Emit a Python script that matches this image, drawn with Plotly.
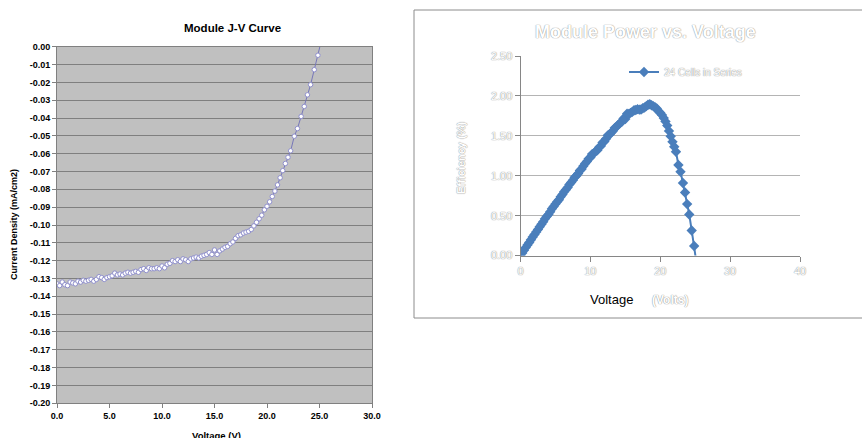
import plotly.graph_objects as go

# ---------------- data ----------------
voltage = [0.00, 0.25, 0.50, 0.75, 1.00, 1.25, 1.50, 1.75, 2.00, 2.25, 2.50, 2.75,
           3.00, 3.25, 3.50, 3.75, 4.00, 4.25, 4.50, 4.75, 5.00, 5.25, 5.50, 5.75,
           6.00, 6.25, 6.50, 6.75, 7.00, 7.25, 7.50, 7.75, 8.00, 8.25, 8.50, 8.75,
           9.00, 9.25, 9.50, 9.75, 10.00, 10.25, 10.50, 10.75, 11.00, 11.25, 11.50, 11.75,
           12.00, 12.25, 12.50, 12.75, 13.00, 13.25, 13.50, 13.75, 14.00, 14.25, 14.50, 14.75,
           15.00, 15.25, 15.50, 15.75, 16.00, 16.25, 16.50, 16.75, 17.00, 17.25, 17.50, 17.75,
           18.00, 18.25, 18.50, 18.75, 19.00, 19.25, 19.50, 19.75, 20.00, 20.25, 20.50, 20.75,
           21.00, 21.25, 21.50, 21.75, 22.00, 22.25, 22.60, 22.90, 23.25, 23.55, 23.85, 24.15,
           24.50, 24.85, 25.20]

current_density = [-0.1330, -0.1340, -0.1320, -0.1335, -0.1340, -0.1320, -0.1325, -0.1330,
                   -0.1315, -0.1320, -0.1310, -0.1315, -0.1310, -0.1305, -0.1315, -0.1305,
                   -0.1290, -0.1295, -0.1305, -0.1295, -0.1290, -0.1285, -0.1270, -0.1280,
                   -0.1275, -0.1280, -0.1270, -0.1265, -0.1270, -0.1265, -0.1260, -0.1265,
                   -0.1250, -0.1245, -0.1255, -0.1240, -0.1245, -0.1245, -0.1240, -0.1245,
                   -0.1230, -0.1240, -0.1220, -0.1215, -0.1200, -0.1205, -0.1195, -0.1205,
                   -0.1190, -0.1195, -0.1205, -0.1190, -0.1185, -0.1180, -0.1185, -0.1175,
                   -0.1170, -0.1165, -0.1155, -0.1165, -0.1140, -0.1165, -0.1145, -0.1135,
                   -0.1125, -0.1120, -0.1105, -0.1095, -0.1075, -0.1060, -0.1055, -0.1045,
                   -0.1040, -0.1035, -0.1025, -0.1005, -0.0985, -0.0965, -0.0945, -0.0915,
                   -0.0895, -0.0870, -0.0840, -0.0810, -0.0775, -0.0735, -0.0695, -0.0655,
                   -0.0620, -0.0584, -0.0502, -0.0459, -0.0391, -0.0335, -0.0270, -0.0213,
                   -0.0129, -0.0048, 0.0040]

power = [0.000, 0.034, 0.066, 0.100, 0.134, 0.165, 0.199, 0.233, 0.263, 0.297, 0.328, 0.362,
         0.393, 0.424, 0.460, 0.489, 0.516, 0.550, 0.587, 0.615, 0.645, 0.675, 0.699, 0.736,
         0.765, 0.800, 0.826, 0.854, 0.889, 0.917, 0.945, 0.980, 1.000, 1.027, 1.067, 1.085,
         1.121, 1.152, 1.178, 1.214, 1.230, 1.271, 1.281, 1.306, 1.320, 1.356, 1.374, 1.416,
         1.428, 1.464, 1.506, 1.517, 1.541, 1.564, 1.600, 1.616, 1.638, 1.660, 1.675, 1.718,
         1.710, 1.777, 1.775, 1.788, 1.800, 1.820, 1.823, 1.834, 1.828, 1.829, 1.846, 1.855,
         1.872, 1.889, 1.896, 1.884, 1.872, 1.858, 1.843, 1.807, 1.790, 1.762, 1.722, 1.681,
         1.628, 1.562, 1.494, 1.425, 1.364, 1.300, 1.135, 1.050, 0.910, 0.790, 0.645, 0.515,
         0.315, 0.120, -0.100]

jv_y_ticks = [0.00, -0.01, -0.02, -0.03, -0.04, -0.05, -0.06, -0.07, -0.08, -0.09, -0.10,
              -0.11, -0.12, -0.13, -0.14, -0.15, -0.16, -0.17, -0.18, -0.19, -0.20]
jv_y_labels = ["0.00", "-0.01", "-0.02", "-0.03", "-0.04", "-0.05", "-0.06", "-0.07",
               "-0.08", "-0.09", "-0.10", "-0.11", "-0.12", "-0.13", "-0.14", "-0.15",
               "-0.16", "-0.17", "-0.18", "-0.19", "-0.20"]
jv_x_ticks = [0, 5, 10, 15, 20, 25, 30]
jv_x_labels = ["0.0", "5.0", "10.0", "15.0", "20.0", "25.0", "30.0"]

left_title = "Module J-V Curve"
left_xtitle = "Voltage (V)"
left_ytitle = "Current Density (mA/cm2)"
right_title = "Module Power vs. Voltage"
right_ytitle = "Efficiency (%)"
series_name = "24 Cells in Series"

# ---------------- figure ----------------
W, H = 862, 438
def px(x):
    return x / W
def py(y):
    return 1 - y / H

ARIAL = "Liberation Sans, Arial, sans-serif"
ghost = dict(family=ARIAL, color="#ffffff",
             shadow="0px 0px 1px #8a8a8a, 0px 0px 1px #a8a8a8")

fig = go.Figure()

fig.add_trace(go.Scatter(
    x=voltage, y=current_density, mode="lines+markers",
    line=dict(color="#7676b8", width=1),
    marker=dict(symbol="circle", size=4.5, color="#ffffff",
                line=dict(color="#8f8fcc", width=1)),
    showlegend=False, xaxis="x", yaxis="y"))

fig.add_trace(go.Scatter(
    x=voltage, y=power, mode="lines+markers", name=series_name,
    line=dict(color="#4a7ebb", width=2),
    marker=dict(symbol="diamond", size=8, color="#4a7ebb"),
    showlegend=True, xaxis="x2", yaxis="y2"))

left_font = dict(family=ARIAL, size=9, color="#000000", weight="bold")

fig.update_layout(
    width=W, height=H,
    margin=dict(l=0, r=0, t=0, b=0, pad=0, autoexpand=False),
    paper_bgcolor="#ffffff", plot_bgcolor="rgba(0,0,0,0)",
    xaxis=dict(domain=[px(57), px(372)], range=[0, 30], anchor="y",
               tickvals=jv_x_ticks, ticktext=jv_x_labels, automargin=False,
               ticks="outside", ticklen=4, tickcolor="#808080",
               showline=True, linecolor="#808080", linewidth=1, mirror=True,
               showgrid=False, zeroline=False, tickfont=left_font),
    yaxis=dict(domain=[py(403.3), py(46.7)], range=[-0.2, 0], anchor="x",
               tickvals=jv_y_ticks, ticktext=jv_y_labels, automargin=False,
               ticks="outside", ticklen=4, tickcolor="#808080",
               showline=True, linecolor="#808080", linewidth=1, mirror=True,
               showgrid=True, gridcolor="#7f7f7f", gridwidth=1.3,
               zeroline=False, tickfont=left_font),
    xaxis2=dict(domain=[px(520.5), px(800)], range=[0, 40], anchor="y2",
                dtick=10, ticks="outside", ticklen=5, tickcolor="#868686",
                showline=True, linecolor="#868686", linewidth=1, automargin=False,
                showgrid=False, zeroline=False,
                tickfont=dict(size=11, **ghost)),
    yaxis2=dict(domain=[py(255.6), py(56)], range=[0, 2.5], anchor="x2",
                dtick=0.5, tickformat=".2f", ticks="outside", ticklen=5,
                tickcolor="#868686", automargin=False,
                showline=True, linecolor="#868686", linewidth=1,
                showgrid=True, gridcolor="#b4b4b4", gridwidth=1.3,
                zeroline=False, tickfont=dict(size=11, **ghost)),
    legend=dict(x=px(624), y=py(72), xanchor="left", yanchor="middle",
                bgcolor="rgba(0,0,0,0)", borderwidth=0,
                font=dict(size=10, **ghost), itemwidth=30),
    shapes=[
        dict(type="rect", xref="x", yref="y", x0=0, x1=30, y0=-0.2, y1=0,
             fillcolor="#c0c0c0", line=dict(width=0), layer="below"),
        dict(type="rect", xref="paper", yref="paper",
             x0=px(414), x1=px(866), y0=py(318), y1=py(10),
             line=dict(color="#8c8c8c", width=1), fillcolor="rgba(0,0,0,0)",
             layer="below"),
    ],
    annotations=[
        dict(text=left_title, x=px(232), y=py(28), xref="paper", yref="paper",
             showarrow=False, xanchor="center", yanchor="middle",
             font=dict(family=ARIAL, size=11.5, color="#000000", weight="bold")),
        dict(text=left_xtitle, x=px(216), y=py(428), xref="paper", yref="paper",
             showarrow=False, xanchor="center", yanchor="top",
             font=dict(family=ARIAL, size=9.5, color="#000000", weight="bold")),
        dict(text=left_ytitle, x=px(14), y=py(225), xref="paper", yref="paper",
             showarrow=False, xanchor="center", yanchor="middle", textangle=-90,
             font=dict(family=ARIAL, size=9, color="#000000", weight="bold")),
        dict(text=right_title, x=px(645), y=py(32), xref="paper", yref="paper",
             showarrow=False, xanchor="center", yanchor="middle",
             font=dict(size=18, weight="bold", **ghost)),
        dict(text=right_ytitle, x=px(461), y=py(158), xref="paper", yref="paper",
             showarrow=False, xanchor="center", yanchor="middle", textangle=-90,
             font=dict(size=11, weight="bold", **ghost)),
        dict(text="Voltage", x=px(611), y=py(299), xref="paper", yref="paper",
             showarrow=False, xanchor="center", yanchor="middle",
             font=dict(family=ARIAL, size=13, color="#000000")),
        dict(text="(Volts)", x=px(670), y=py(300), xref="paper", yref="paper",
             showarrow=False, xanchor="center", yanchor="middle",
             font=dict(size=12, weight="bold", **ghost)),
    ],
)

fig.write_html("out.html",
               config={"displayModeBar": False},
               post_script="document.body.style.margin='0';"
                           "document.body.style.overflow='hidden';")
